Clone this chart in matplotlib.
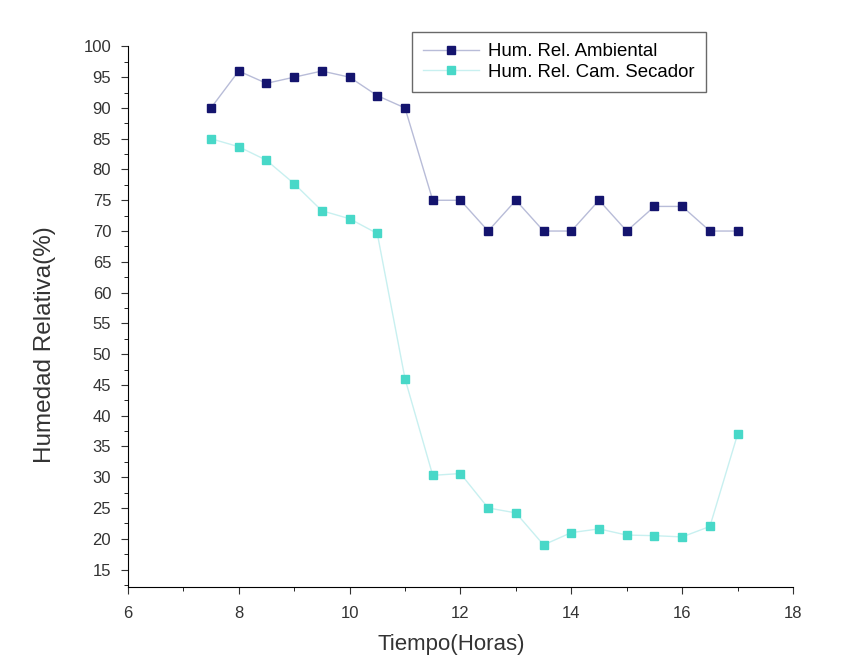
import matplotlib.pyplot as plt
from matplotlib.ticker import MultipleLocator

plt.rcParams['font.family'] = ['Liberation Sans', 'DejaVu Sans']

# Datos
tiempo = [7.5, 8, 8.5, 9, 9.5, 10, 10.5, 11, 11.5, 12, 12.5, 13, 13.5, 14,
          14.5, 15, 15.5, 16, 16.5, 17]
hum_ambiental = [90, 96, 94, 95, 96, 95, 92, 90, 75, 75, 70, 75, 70, 70,
                 75, 70, 74, 74, 70, 70]
hum_secador = [85, 83.7, 81.5, 77.7, 73.3, 72, 69.6, 46, 30.3, 30.6, 25, 24.2,
               19, 21, 21.6, 20.6, 20.5, 20.3, 22, 37]

fig = plt.figure(figsize=(8.41, 6.63), dpi=100)
ax = fig.add_axes([0.152, 0.115, 0.791, 0.815])

ax.plot(tiempo, hum_ambiental, color='#b8bcd8', linewidth=1,
        marker='s', markersize=6, markerfacecolor='#14146e',
        markeredgecolor='#14146e', label='Hum. Rel. Ambiental')
ax.plot(tiempo, hum_secador, color='#c8f0f0', linewidth=1,
        marker='s', markersize=6, markerfacecolor='#48d8c8',
        markeredgecolor='#48d8c8', label='Hum. Rel. Cam. Secador')

ax.set_xlim(6, 18)
ax.set_ylim(12.2, 100)
ax.xaxis.set_major_locator(MultipleLocator(2))
ax.xaxis.set_minor_locator(MultipleLocator(1))
ax.yaxis.set_major_locator(MultipleLocator(5))
ax.yaxis.set_minor_locator(MultipleLocator(2.5))
ax.tick_params(which='major', length=5, labelsize=12, colors='#333333')
ax.tick_params(which='minor', length=3)
ax.tick_params(axis='x', which='major', pad=9)
ax.tick_params(axis='y', which='major', pad=7)

ax.spines['top'].set_visible(False)
ax.spines['right'].set_visible(False)

ax.set_xlabel('Tiempo(Horas)', fontsize=16, color='#333333')
ax.set_ylabel('Humedad Relativa(%)', fontsize=17.5, color='#333333')
ax.xaxis.set_label_coords(0.486, -0.088)
ax.yaxis.set_label_coords(-0.108, 0.449)

leg = ax.legend(loc='upper left', bbox_to_anchor=(0.49, 0.952),
                bbox_transform=fig.transFigure, fontsize=13.4,
                frameon=True, fancybox=False, edgecolor='#444444',
                handlelength=3.0, handletextpad=0.5, borderpad=0.6,
                labelspacing=0.2, borderaxespad=0)
leg.get_frame().set_linewidth(1)

plt.savefig('out.png', dpi=100)
